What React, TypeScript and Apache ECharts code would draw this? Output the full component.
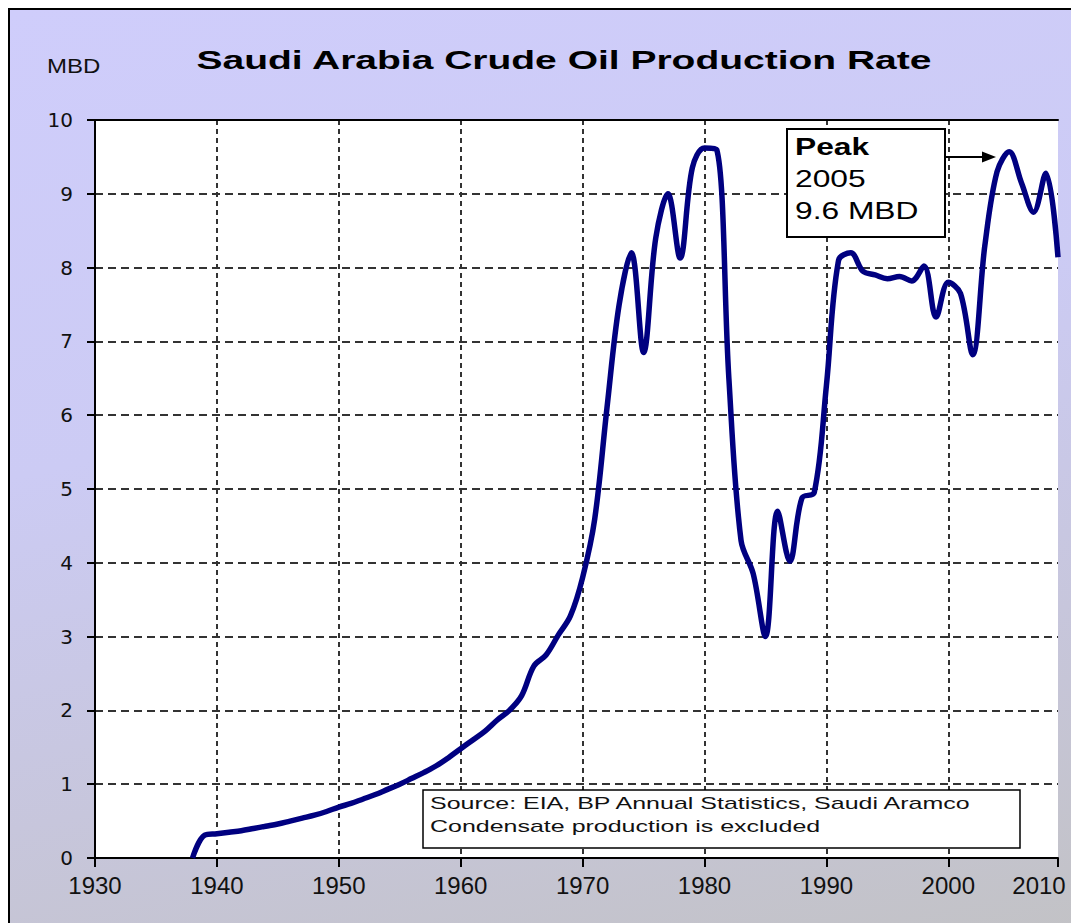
import React, { useEffect, useRef } from "react";
import * as echarts from "echarts";

const years = [
  1938, 1939, 1940, 1941, 1942, 1943, 1944, 1945, 1946, 1947, 1948, 1949,
  1950, 1951, 1952, 1953, 1954, 1955, 1956, 1957, 1958, 1959,
  1960, 1961, 1962, 1963, 1964, 1965, 1966, 1967, 1968, 1969,
  1970, 1971, 1972, 1973, 1974, 1975, 1976, 1977, 1978, 1979,
  1980, 1981, 1982, 1983, 1984, 1985, 1986, 1987, 1988, 1989,
  1990, 1991, 1992, 1993, 1994, 1995, 1996, 1997, 1998, 1999,
  2000, 2001, 2002, 2003, 2004, 2005, 2006, 2007, 2008, 2009,
];

const production = [
  0, 0.31, 0.33, 0.35, 0.37, 0.4, 0.43, 0.46, 0.5, 0.54, 0.58, 0.63,
  0.69, 0.74, 0.8, 0.86, 0.93, 1.0, 1.08, 1.16, 1.25, 1.36,
  1.48, 1.6, 1.72, 1.87, 2.0, 2.2, 2.6, 2.75, 3.02, 3.28,
  3.8, 4.6, 6.1, 7.5, 8.2, 6.85, 8.4, 9.0, 8.13, 9.35,
  9.62, 9.6, 6.5, 4.3, 3.85, 3.0, 4.7, 4.02, 4.88, 4.95,
  6.4, 8.1, 8.2, 7.95, 7.9, 7.85, 7.88, 7.82, 8.02, 7.33,
  7.8, 7.65, 6.82, 8.3, 9.3, 9.57, 9.15, 8.75, 9.28, 8.14,
];

const xTickValues = [1930, 1940, 1950, 1960, 1970, 1980, 1990, 2000, 2009];
const xTickLabels = ["1930", "1940", "1950", "1960", "1970", "1980", "1990", "2000", "2010"];

const titleText = "Saudi Arabia Crude Oil Production Rate";
const unitText = "MBD";
const peakLines = ["Peak", "2005", "9.6 MBD"];
const sourceLines = [
  "Source: EIA, BP Annual Statistics, Saudi Aramco",
  "Condensate production is excluded",
];

export default function App() {
  const ref = useRef<HTMLDivElement>(null);

  useEffect(() => {
    document.documentElement.style.overflow = "hidden";
    if (!ref.current) return;
    const chart = echarts.init(ref.current, null, { renderer: "svg" });

    const gridLine = "#333";
    const labelFont = "Liberation Sans, Arial, sans-serif";
    const option: any = {
      animation: false,
      grid: {
        left: 85,
        right: 13,
        top: 110,
        bottom: 65,
        show: true,
        backgroundColor: "#ffffff",
        borderWidth: 0,
        containLabel: false,
        outerBoundsMode: "none",
      },
      xAxis: [
        {
          type: "value",
          min: 1930,
          max: 2009,
          interval: 10,
          axisLine: { show: true, lineStyle: { color: "#000", width: 2 } },
          axisTick: { show: true, length: 9, lineStyle: { color: "#000", width: 2 } },
          axisLabel: {
            margin: 15,
            fontSize: 24,
            fontFamily: labelFont,
            color: "#111",
            hideOverlap: false,
            formatter: (v: number) => {
              const i = xTickValues.indexOf(v);
              if (i < 0) return "";
              if (i === xTickValues.length - 1) return "{last|" + xTickLabels[i] + "}";
              return xTickLabels[i];
            },
            rich: {
              last: {
                fontSize: 24,
                fontFamily: labelFont,
                color: "#111",
                padding: [0, 38, 0, 0],
              },
            },
          },
          splitLine: {
            show: true,
            showMinLine: false,
            showMaxLine: false,
            lineStyle: { type: [5, 4], color: gridLine, width: 2 },
          },
        },
        {
          type: "value",
          position: "top",
          min: 1930,
          max: 2009,
          interval: 10,
          axisLine: { show: true, onZero: false, lineStyle: { color: "#000", width: 2 } },
          axisTick: { show: false },
          axisLabel: { show: false },
          splitLine: { show: false },
        },
      ],
      yAxis: {
        type: "value",
        min: 0,
        max: 10,
        interval: 1,
        axisLine: { show: true, lineStyle: { color: "#000", width: 2 } },
        axisTick: { show: true, length: 8, lineStyle: { color: "#000", width: 2 } },
        axisLabel: {
          margin: 22,
          fontSize: 20,
          fontFamily: "DejaVu Sans, sans-serif",
          color: "#111",
        },
        splitLine: {
          show: true,
          showMinLine: false,
          showMaxLine: false,
          lineStyle: { type: [8, 5], color: gridLine, width: 2 },
        },
      },
      series: [
        {
          type: "line",
          xAxisIndex: 0,
          data: years.map((y, i) => [y, production[i]]),
          showSymbol: false,
          smooth: 0.35,
          lineStyle: { color: "#000080", width: 5.5 },
          z: 5,
        },
      ],
      graphic: [
        {
          type: "text",
          x: 554,
          y: 50,
          scaleX: 1.5,
          z: 100,
          style: {
            text: titleText,
            fontSize: 26,
            fontWeight: "bold",
            fontFamily: labelFont,
            fill: "#000",
            textAlign: "center",
            textVerticalAlign: "middle",
          },
        },
        {
          type: "text",
          x: 37,
          y: 56,
          scaleX: 1.2,
          z: 100,
          style: {
            text: unitText,
            fontSize: 20,
            fontFamily: labelFont,
            fill: "#111",
            textAlign: "left",
            textVerticalAlign: "middle",
          },
        },
        {
          type: "rect",
          z: 100,
          shape: { x: 777, y: 119, width: 158, height: 108 },
          style: { fill: "#fff", stroke: "#000", lineWidth: 2 },
        },
        ...peakLines.map((t, i) => ({
          type: "text",
          x: 785,
          y: 137 + i * 32,
          scaleX: 1.38,
          z: 101,
          style: {
            text: t,
            fontSize: 23,
            fontWeight: i === 0 ? "bold" : "normal",
            fontFamily: labelFont,
            fill: "#000",
            textAlign: "left",
            textVerticalAlign: "middle",
          },
        })),
        {
          type: "line",
          z: 100,
          shape: { x1: 935, y1: 147, x2: 975, y2: 147 },
          style: { stroke: "#000", lineWidth: 2 },
        },
        {
          type: "polygon",
          z: 100,
          shape: { points: [[972, 141.5], [986, 147], [972, 152.5]] },
          style: { fill: "#000" },
        },
        {
          type: "rect",
          z: 100,
          shape: { x: 413, y: 780, width: 597, height: 58 },
          style: { fill: "#fff", stroke: "#000", lineWidth: 1.5 },
        },
        ...sourceLines.map((t, i) => ({
          type: "text",
          x: 420,
          y: 793 + i * 23.5,
          scaleX: 1.47,
          z: 101,
          style: {
            text: t,
            fontSize: 17,
            fontFamily: labelFont,
            fill: "#111",
            textAlign: "left",
            textVerticalAlign: "middle",
          },
        })),
      ],
    };

    chart.setOption(option);
    return () => chart.dispose();
  }, []);

  return (
    <div
      style={{
        position: "fixed",
        left: 8,
        top: 8,
        width: 1100,
        height: 940,
        boxSizing: "border-box",
        borderLeft: "2px solid #000",
        borderTop: "2px solid #000",
        background:
          "linear-gradient(168deg, #cfcdfb 0%, #cccbf4 40%, #c7c6dc 70%, #c2c2c4 100%)",
      }}
    >
      <div ref={ref} style={{ width: 1061, height: 913 }} />
    </div>
  );
}
